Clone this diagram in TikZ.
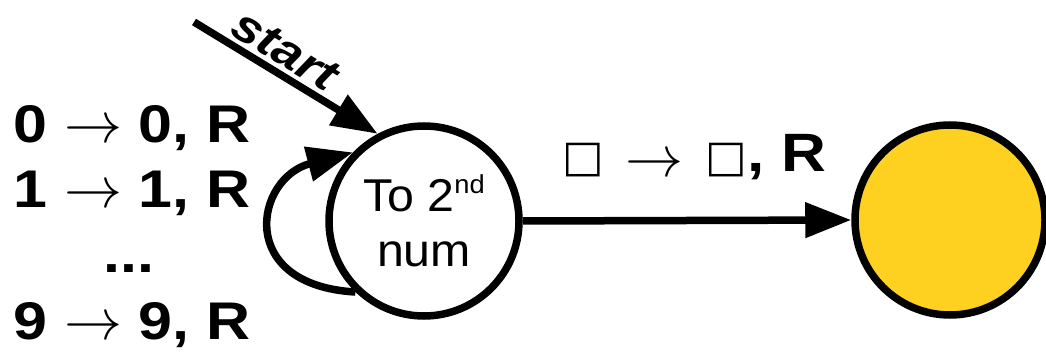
\documentclass[tikz,border=0pt]{standalone}
\usepackage{graphicx}
\usepackage{fontspec}
\setmainfont{Liberation Sans}
\newfontfamily\labfont[FakeStretch=1.15]{Liberation Sans}
\newfontfamily\circfont[FakeStretch=1.05]{Liberation Sans}
\newfontfamily\symfont{DejaVu Sans}
\usetikzlibrary{arrows.meta}
\definecolor{stateyellow}{RGB}{254,208,32}
\newcommand\labarrow{\scalebox{5.8}{\fontsize{10}{12}\selectfont$\rightarrow$}}
\newcommand\blanksym{{\symfont\fontsize{44}{44}\selectfont □}}
\tikzset{
  state/.style={circle, draw=black, line width=7.5pt, minimum size=190pt, inner sep=0pt},
  conn/.style={line width=7.5pt, -{Triangle[length=46pt,width=34pt]}},
  lab/.style={inner sep=0pt, font=\labfont\bfseries\fontsize{53}{60}\selectfont},
  edgelab/.style={inner sep=0pt, font=\labfont\bfseries\fontsize{54}{60}\selectfont},
  startlab/.style={inner sep=0pt, font=\labfont\bfseries\itshape\fontsize{46}{52}\selectfont},
  circtext/.style={font=\circfont\fontsize{46}{55}\selectfont, align=center},
}
\begin{document}
\begin{tikzpicture}[x=1pt,y=-1pt]
\useasboundingbox (0,0) rectangle (1046,352);
\node[state, circtext] (c1) at (424,221) {To 2\raisebox{18pt}{\fontsize{26}{26}\selectfont nd}\\num};
\node[state, fill=stateyellow] (c2) at (950,220) {};
\coordinate (s) at (194,22);
\draw[conn] (s) -- node[startlab, sloped, above=4pt, pos=0.43] {start} (c1.118);
\draw[conn] (c1.226) .. controls (235,285) and (255,178) .. (c1.136);
\draw[conn] (c1.east) -- (c2.west);
\node[edgelab, anchor=base west] (el) at (562,172) {\blanksym\hspace{22pt}\raisebox{-5pt}{\labarrow}\hspace{22pt}\blanksym, R};
\node[lab, anchor=base west] (l0) at (13,143) {0 \labarrow{} 0, R};
\node[lab, anchor=base west] (l1) at (13,208) {1 \labarrow{} 1, R};
\node[lab, anchor=base] (dots) at (129,273) {...};
\node[lab, anchor=base west] (l9) at (13,340) {9 \labarrow{} 9, R};
\end{tikzpicture}
\end{document}
